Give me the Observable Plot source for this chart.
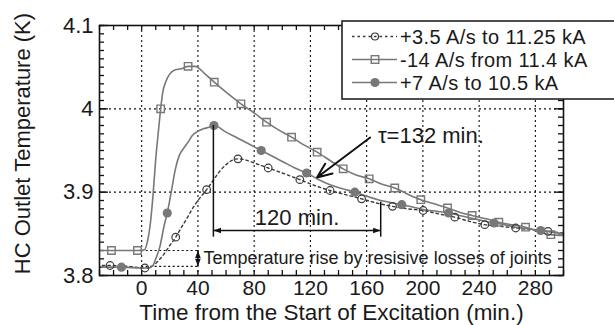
<!DOCTYPE html>
<html><head><meta charset="utf-8">
<script src="https://cdn.jsdelivr.net/npm/d3@7"></script>
<script src="https://cdn.jsdelivr.net/npm/@observablehq/plot@0.6"></script>
<style>body{margin:0;background:#fff;} #chart{width:614px;height:325px;}</style>
</head><body><div id="chart"></div>
<script>
// ---- data ----
const seriesNames = ["+3.5 A/s to 11.25 kA", "-14 A/s from 11.4 kA", "+7 A/s to 10.5 kA"];

// Series A (+3.5 A/s, dotted, open circles)
const aLineT = [-28,-22.5,-10,2.3,6,9,12,16,20,24.2,28,32,36,40,46.2,50,55,60,64,68.5,73,80,90,100,112.5,123,134,145,156.4,167,178.4,189,200.2,211,222.7,233,244,255,266,277,289,300];
const aLineK = [3.812,3.812,3.811,3.809,3.81,3.813,3.818,3.826,3.836,3.846,3.857,3.868,3.88,3.89,3.903,3.912,3.924,3.933,3.938,3.94,3.939,3.935,3.929,3.923,3.915,3.908,3.902,3.897,3.892,3.887,3.883,3.88,3.878,3.874,3.87,3.865,3.861,3.859,3.857,3.855,3.853,3.851];
const aMarkT = [-22.5,2.3,24.2,46.2,68.5,90,112.5,134,156.4,178.4,200.2,222.7,244,266,289];
const aMarkK = [3.812,3.809,3.846,3.903,3.94,3.929,3.915,3.902,3.892,3.883,3.878,3.87,3.861,3.857,3.853];

// Series B (-14 A/s, solid, squares)
const bLineT = [-30,-21.5,-3,2,4,6,8,10,12,13.5,15,17,20,24,28,33,38,45,51.6,60,70.6,80,88.8,97,106.6,115,124.8,134,143.3,152,161.8,170,180,190,198.5,208,217.5,226,235,245,254,263,273,282,291,300];
const bLineK = [3.83,3.83,3.83,3.831,3.84,3.86,3.895,3.94,3.975,4.0,4.02,4.032,4.042,4.047,4.048,4.051,4.051,4.042,4.032,4.02,4.006,3.995,3.984,3.975,3.966,3.957,3.948,3.938,3.928,3.921,3.916,3.91,3.905,3.897,3.891,3.886,3.881,3.876,3.872,3.868,3.864,3.861,3.858,3.853,3.849,3.848];
const bMarkT = [-21.5,-3,13.5,33,51.6,70.6,88.8,106.6,124.8,143.3,161.8,180,198.5,217.5,235,254,273,291];
const bMarkK = [3.83,3.83,4.0,4.051,4.032,4.006,3.984,3.966,3.948,3.928,3.916,3.905,3.891,3.881,3.872,3.864,3.858,3.849];

// Series C (+7 A/s, solid, filled circles)
const cLineT = [-28,-14.4,0,5,8,10,13,16,18.2,21,24,27,30,33,36,40,44,48,51.4,60,68,76,85,93,101,109,117.3,126,134,143,151.6,160,168,176,185,193,201,210,218.3,226,234,242,250.6,258,266,275,283.8,292,300];
const cLineK = [3.81,3.81,3.809,3.809,3.812,3.82,3.835,3.86,3.875,3.9,3.928,3.945,3.953,3.96,3.968,3.973,3.976,3.978,3.98,3.972,3.965,3.958,3.95,3.943,3.936,3.929,3.923,3.915,3.909,3.904,3.9,3.895,3.891,3.888,3.885,3.882,3.879,3.877,3.875,3.872,3.869,3.866,3.863,3.861,3.858,3.856,3.854,3.852,3.85];
const cMarkT = [-14.4,18.2,51.4,85,117.3,151.6,185,218.3,250.6,283.8];
const cMarkK = [3.81,3.875,3.98,3.95,3.923,3.9,3.885,3.875,3.863,3.854];

const xMajor = [0,40,80,120,160,200,240,280];
const yMajor = [3.8,3.9,4.0,4.1];
const xMinor = d3.range(-30, 301, 10);
const yMinor = d3.range(380, 411, 1).map(v => v / 100);

// annotations
const tauLabel = "τ=132 min.";
const spanLabel = "120 min.";
const riseLabel = "Temperature rise by resisive losses of joints";
const xTitle = "Time from the Start of Excitation (min.)";
const yTitle = "HC Outlet Temperature (K)";
const spanStart = 51, spanEnd = 170;
const riseT = 40, riseLow = 3.811, riseHigh = 3.83;

// ---- build ----
const zip = (ts, ks) => ts.map((t, i) => ({t, k: ks[i]}));
const aLine = zip(aLineT, aLineK), bLine = zip(bLineT, bLineK), cLine = zip(cLineT, cLineK);
const aMark = zip(aMarkT, aMarkK), bMark = zip(bMarkT, bMarkK), cMark = zip(cMarkT, cMarkK);

const W = 614, H = 325, mL = 99, mR = 51, mT = 25, mB = 50;
const xDom = [-30, 300], yDom = [3.8, 4.1];
const minPerPx = (xDom[1] - xDom[0]) / (W - mL - mR);
const kPerPx = (yDom[1] - yDom[0]) / (H - mT - mB);

const grey = "#787878", dark = "#3a3a3a", ink = "#1a1a1a";
const font = "'Liberation Sans', Arial, sans-serif";

// custom filled arrow-head symbols (tip at the anchor point)
const head = (dx, dy) => ({draw(ctx, size) {
  const r = Math.sqrt(size / Math.PI);
  const L = r * 1.9, w = r * 0.7;
  const px = -dy, py = dx;
  ctx.moveTo(0, 0);
  ctx.lineTo(-dx * L + px * w, -dy * L + py * w);
  ctx.lineTo(-dx * L - px * w, -dy * L - py * w);
  ctx.closePath();
}});
const headUp = head(0, -1), headDown = head(0, 1), headLeft = head(-1, 0), headRight = head(1, 0);

const plot = Plot.plot({
  width: W, height: H,
  marginLeft: mL, marginRight: mR, marginTop: mT, marginBottom: mB,
  x: {domain: xDom},
  y: {domain: yDom},
  style: {fontFamily: font, color: ink, background: "#fff"},
  marks: [
    // grid
    Plot.ruleX(xMajor, {stroke: "#111", strokeWidth: 1.1, strokeDasharray: "2,3"}),
    Plot.ruleY([3.9, 4.0], {stroke: "#111", strokeWidth: 1.1, strokeDasharray: "2,3"}),
    // inward ticks
    Plot.ruleX(xMinor, {y1: yDom[0], y2: yDom[0] + 5 * kPerPx, stroke: "#111", strokeWidth: 1.3}),
    Plot.ruleX(xMinor, {y1: yDom[1], y2: yDom[1] - 5 * kPerPx, stroke: "#111", strokeWidth: 1.3}),
    Plot.ruleY(yMinor, {x1: xDom[0], x2: xDom[0] + 5 * minPerPx, stroke: "#111", strokeWidth: 1.3}),
    Plot.ruleY(yMinor, {x1: xDom[1], x2: xDom[1] - 5 * minPerPx, stroke: "#111", strokeWidth: 1.3}),
    Plot.ruleY(yMajor, {x1: xDom[0], x2: xDom[0] + 9 * minPerPx, stroke: "#111", strokeWidth: 1.3}),
    Plot.ruleY(yMajor, {x1: xDom[1], x2: xDom[1] - 9 * minPerPx, stroke: "#111", strokeWidth: 1.3}),
    // temperature-rise reference lines
    Plot.ruleY([riseHigh, riseLow], {x1: 0, x2: riseT, stroke: "#111", strokeWidth: 1.2, strokeDasharray: "2,2.5"}),
    Plot.ruleX([riseT], {y1: riseLow, y2: riseHigh, stroke: "#111", strokeWidth: 1.5}),
    Plot.dot([{t: riseT, k: riseHigh}], {x: "t", y: "k", r: 4, symbol: headUp, fill: "#111", stroke: null}),
    Plot.dot([{t: riseT, k: riseLow}], {x: "t", y: "k", r: 4, symbol: headDown, fill: "#111", stroke: null}),
    Plot.text([riseLabel], {x: riseT + 4, y: (riseLow + riseHigh) / 2, textAnchor: "start", fontSize: 18, fill: ink}),
    // series lines
    Plot.line(aLine, {x: "t", y: "k", stroke: dark, strokeWidth: 1.4, strokeDasharray: "2.5,3", curve: "monotone-x"}),
    Plot.line(bLine, {x: "t", y: "k", stroke: grey, strokeWidth: 1.6, curve: "monotone-x"}),
    Plot.line(cLine, {x: "t", y: "k", stroke: grey, strokeWidth: 1.6, curve: "monotone-x"}),
    // markers
    Plot.dot(aMark, {x: "t", y: "k", r: 3.8, stroke: dark, strokeWidth: 1.2, fill: "none"}),
    Plot.dot(bMark, {x: "t", y: "k", r: 4.2, symbol: "square", stroke: grey, strokeWidth: 1.4, fill: "none"}),
    Plot.dot(cMark, {x: "t", y: "k", r: 4.6, fill: grey, stroke: null}),
    // 120 min span
    Plot.ruleX([spanStart], {y1: 3.98, y2: 3.846, stroke: "#111", strokeWidth: 1.5}),
    Plot.ruleX([spanEnd], {y1: 3.888, y2: 3.846, stroke: "#111", strokeWidth: 1.5}),
    Plot.ruleY([3.854], {x1: spanStart, x2: spanEnd, stroke: "#111", strokeWidth: 1.5}),
    Plot.dot([{t: spanStart, k: 3.854}], {x: "t", y: "k", r: 4, symbol: headLeft, fill: "#111", stroke: null}),
    Plot.dot([{t: spanEnd, k: 3.854}], {x: "t", y: "k", r: 4, symbol: headRight, fill: "#111", stroke: null}),
    Plot.text([spanLabel], {x: (spanStart + spanEnd) / 2, y: 3.869, fontSize: 22, fill: ink}),
    // tau arrow
    Plot.arrow([{x1: 162.5, y1: 3.9656, x2: 124.7, y2: 3.9176}], {x1: "x1", y1: "y1", x2: "x2", y2: "y2", stroke: "#111", strokeWidth: 2, headLength: 12, headAngle: 45}),
    Plot.text([tauLabel], {x: 168, y: 3.968, textAnchor: "start", fontSize: 22, fill: ink}),
    // frame + axes
    Plot.frame({stroke: "#111", strokeWidth: 1.6}),
    Plot.axisX({ticks: xMajor, tickSize: 0, tickPadding: 5, fontSize: 21, tickFormat: d => String(d), label: null}),
    Plot.axisY({ticks: yMajor, tickSize: 0, tickPadding: 6, fontSize: 22, tickFormat: d3.format("~g"), label: null}),
    Plot.text([xTitle], {frameAnchor: "bottom", dy: 37.5, textAnchor: "middle", lineAnchor: "middle", fontSize: 22.5, fill: ink}),
    Plot.text([yTitle], {frameAnchor: "left", dx: -77, dy: -7, textAnchor: "middle", lineAnchor: "middle", rotate: -90, fontSize: 22, fill: ink})
  ]
});

// legend box overlapping the top-right of the plot
const svg = d3.select(plot);
const lg = svg.append("g").attr("font-family", font).attr("text-anchor", "start");
lg.append("rect").attr("x", 342).attr("y", 21).attr("width", 290).attr("height", 78)
  .attr("fill", "#fff").attr("stroke", "#222").attr("stroke-width", 1.6);
const rows = [36.5, 59.5, 82.5];
const x0 = 352, x1 = 397, xm = 375;
// row A
lg.append("line").attr("x1", x0).attr("x2", x1).attr("y1", rows[0]).attr("y2", rows[0])
  .attr("stroke", dark).attr("stroke-width", 1.4).attr("stroke-dasharray", "2.5,3");
lg.append("circle").attr("cx", xm).attr("cy", rows[0]).attr("r", 3.5).attr("fill", "none").attr("stroke", dark).attr("stroke-width", 1.2);
// row B
lg.append("line").attr("x1", x0).attr("x2", x1).attr("y1", rows[1]).attr("y2", rows[1])
  .attr("stroke", grey).attr("stroke-width", 1.6);
lg.append("rect").attr("x", xm - 3.8).attr("y", rows[1] - 3.8).attr("width", 7.6).attr("height", 7.6)
  .attr("fill", "none").attr("stroke", grey).attr("stroke-width", 1.4);
// row C
lg.append("line").attr("x1", x0).attr("x2", x1).attr("y1", rows[2]).attr("y2", rows[2])
  .attr("stroke", grey).attr("stroke-width", 1.6);
lg.append("circle").attr("cx", xm).attr("cy", rows[2]).attr("r", 4.6).attr("fill", grey);
seriesNames.forEach((s, i) => {
  lg.append("text").attr("x", 400).attr("y", rows[i]).attr("dy", "0.36em")
    .attr("text-anchor", "start").attr("font-size", 20).attr("letter-spacing", "0.4px").attr("fill", ink).text(s);
});

document.getElementById("chart").appendChild(plot);
</script>
</body></html>
